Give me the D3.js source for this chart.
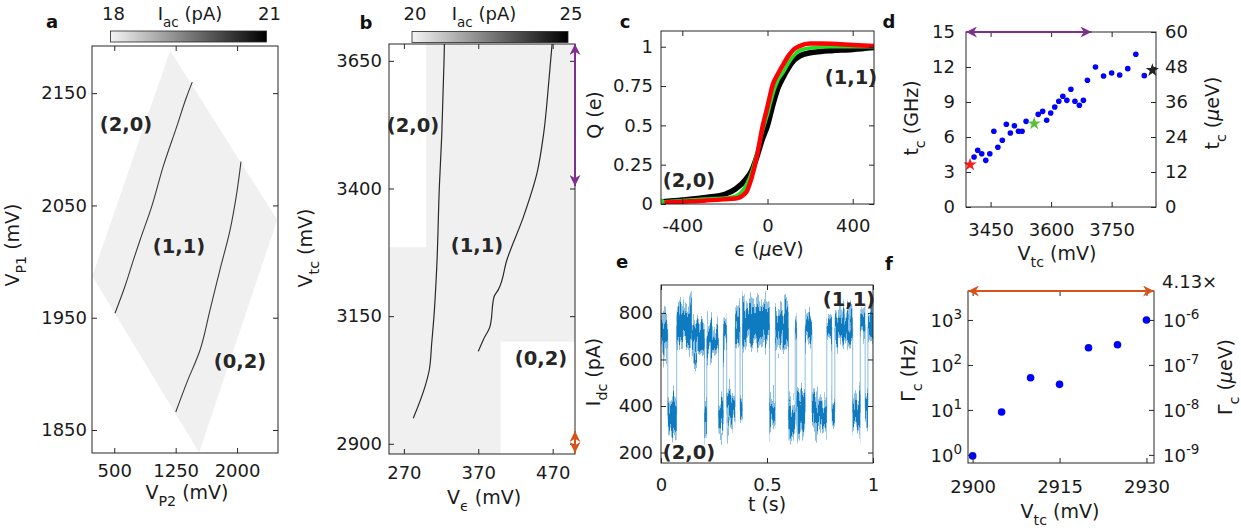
<!DOCTYPE html>
<html>
<head>
<meta charset="utf-8">
<script src="https://cdn.jsdelivr.net/npm/d3@7"></script>
<style>
  body { margin: 0; background: #fff; }
  svg text { font-family: "DejaVu Sans", sans-serif; }
</style>
</head>
<body>
<script>
// ---------- data ----------
// a: charge stability map, corners of the scanned region and two transition lines (V_P2, V_P1) in mV
var aRegion = [[1183, 2188], [2490, 2037], [1537, 1830], [232, 1987]];
var aLine1 = [[509, 1954], [631, 1978], [732, 2001], [814, 2019], [957, 2049], [1099, 2085], [1262, 2120], [1385, 2147], [1453, 2160]];
var aLine2 = [[1251, 1866], [1385, 1892], [1547, 1921], [1670, 1957], [1792, 1993], [1914, 2028], [1996, 2061], [2048, 2089]];
var aXTicks = [500, 1250, 2000];
var aYTicks = [1850, 1950, 2050, 2150];
var aColorbar = [18, 21];

// b: V_eps vs V_tc map (mV)
var bRegion = [[300, 3683], [500, 3683], [500, 3100], [400, 3100], [400, 2880], [250, 2880], [250, 3285], [300, 3285]];
var bLine1 = [[282.6, 2950], [298.4, 3012], [304.2, 3045], [307.4, 3097], [310.5, 3151], [314.2, 3247], [317.7, 3404], [321, 3508], [324, 3652], [324.5, 3683]];
var bLine2 = [[370, 3081], [376.8, 3104], [385.8, 3130], [391.2, 3188], [397, 3202], [408.4, 3260], [430.8, 3345], [448.9, 3430], [457.9, 3508], [464.6, 3606], [469.2, 3683]];
var bXTicks = [270, 370, 470];
var bYTicks = [2900, 3150, 3400, 3650];
var bColorbar = [20, 25];
var bPurple = [3683, 3405];
var bOrange = [2925, 2882];

// c: charge Q(e) vs detuning (ueV)
var cEps   = [-500, -400, -300, -200, -150, -100, -75, -50, -25, 0, 25, 50, 75, 100, 125, 150, 200, 250, 300, 400, 500];
var cBlack = [0.013, 0.025, 0.04, 0.062, 0.095, 0.16, 0.21, 0.30, 0.41, 0.50, 0.63, 0.74, 0.81, 0.87, 0.915, 0.94, 0.962, 0.97, 0.975, 0.983, 0.995];
var cGreen = [0.012, 0.022, 0.032, 0.038, 0.05, 0.12, 0.20, 0.32, 0.46, 0.57, 0.70, 0.79, 0.84, 0.90, 0.945, 0.975, 0.992, 0.998, 1.0, 1.0, 1.0];
var cRed   = [0.008, 0.015, 0.021, 0.03, 0.035, 0.075, 0.165, 0.30, 0.48, 0.62, 0.76, 0.83, 0.89, 0.945, 0.985, 1.004, 1.02, 1.02, 1.019, 1.011, 1.004];
var cXTicks = [-400, 0, 400];
var cYTicks = [0, 0.25, 0.5, 0.75, 1];

// d: tunnel coupling vs V_tc
var dV  = [3409, 3418, 3428, 3438, 3448, 3458, 3468, 3479, 3489, 3499, 3509, 3519, 3528, 3538, 3568, 3579, 3589, 3599, 3609, 3619, 3629, 3639, 3649, 3659, 3670, 3680, 3690, 3710, 3730, 3750, 3770, 3790, 3810, 3831];
var dTc = [4.29, 4.86, 4.57, 4.0, 4.57, 6.49, 5.12, 5.72, 7.09, 6.34, 6.97, 6.49, 6.49, 7.34, 7.94, 8.2, 7.43, 8.06, 8.57, 9.06, 9.49, 9.14, 10.09, 9.06, 8.72, 9.14, 10.86, 12.0, 11.23, 11.48, 11.31, 11.86, 13.09, 11.26];
var dStarV  = [3399, 3558, 3851];
var dStarTc = [3.63, 7.14, 11.72];
var dStarCol = ["#ff1a1a", "#5cbf3a", "#222222"];
var dXTicks = [3450, 3600, 3750];
var dYTicks = [0, 3, 6, 9, 12, 15];
var dY2Ticks = [0, 12, 24, 36, 48, 60];
var dPurple = [3389, 3700];

// e: telegraph trace I_dc; each segment: start time, end time, lower and upper edge of the noise band (pA)
var eStart = [0.000, 0.032, 0.074, 0.145, 0.205, 0.216, 0.271, 0.294, 0.310, 0.350, 0.373, 0.384, 0.512, 0.539, 0.601, 0.633, 0.640, 0.680, 0.712, 0.782, 0.806, 0.820, 0.904, 0.940, 0.963, 0.976];
var eEnd   = [0.032, 0.074, 0.145, 0.205, 0.216, 0.271, 0.294, 0.310, 0.350, 0.373, 0.384, 0.512, 0.539, 0.601, 0.633, 0.640, 0.680, 0.712, 0.782, 0.806, 0.820, 0.904, 0.940, 0.963, 0.976, 1.000];
var eLow   = [630, 270, 650, 610, 260, 620, 280, 640, 320, 660, 310, 660, 300, 640, 260, 680, 290, 660, 290, 680, 310, 660, 290, 680, 330, 650];
var eHigh  = [800, 450, 840, 770, 400, 760, 420, 780, 470, 820, 450, 850, 460, 830, 420, 790, 460, 800, 450, 800, 440, 810, 450, 820, 450, 830];
var eXTicks = [0, 0.5, 1];
var eYTicks = [200, 400, 600, 800];

// f: Gamma_c vs V_tc
var fV = [2900, 2905, 2910, 2915, 2920, 2925, 2930];
var fG = [0.95, 9, 52, 37, 240, 280, 1000];
var fXTicks = [2900, 2915, 2930];
var fYTicks = [1, 10, 100, 1000];
var fY2Labels = ["-9", "-8", "-7", "-6"];

// ---------- drawing ----------
var W = 1241, H = 531;
var axCol = "#262626";
var purple = "#7E2F8E", orange = "#D95319";
var tickSize = 18;
var eps = "\u03f5";

var svg = d3.select("body").append("svg")
    .attr("width", W)
    .attr("height", H);

var defs = svg.append("defs");

// grayscale gradient for the colorbars
var grad = defs.append("linearGradient").attr("id", "cb");
grad.append("stop").attr("offset", "0%").attr("stop-color", "#f4f4f4");
grad.append("stop").attr("offset", "100%").attr("stop-color", "#000");

// arrow heads
[["headP", purple], ["headO", orange]].forEach(function(m) {
    defs.append("marker")
        .attr("id", m[0])
        .attr("viewBox", "0 0 10 10")
        .attr("refX", 10).attr("refY", 5)
        .attr("markerWidth", 11).attr("markerHeight", 11)
        .attr("markerUnits", "userSpaceOnUse")
        .attr("orient", "auto-start-reverse")
        .append("path")
            .attr("d", "M0,0 L10,5 L0,10 L3,5 Z")
            .attr("fill", m[1]);
});

// jagged filter for the noisy current trace
var jag = defs.append("filter").attr("id", "jag")
    .attr("filterUnits", "userSpaceOnUse")
    .attr("x", -20).attr("y", -40).attr("width", 260).attr("height", 260);
jag.append("feTurbulence")
    .attr("type", "fractalNoise").attr("baseFrequency", "0.5 0.03")
    .attr("numOctaves", 2).attr("seed", 4).attr("result", "n");
jag.append("feColorMatrix").attr("in", "n").attr("type", "matrix")
    .attr("values", "0 0 0 0 0.5  0 1 0 0 0  0 0 0 0 0  0 0 0 0 1").attr("result", "m");
jag.append("feDisplacementMap")
    .attr("in", "SourceGraphic").attr("in2", "m")
    .attr("scale", 50).attr("xChannelSelector", "R").attr("yChannelSelector", "G");

function panel(id, box, xDom, yDom, yLog) {
    var g = svg.append("g").attr("transform", "translate(" + box.x + "," + box.y + ")");
    defs.append("clipPath").attr("id", "clip" + id)
        .append("rect").attr("width", box.w).attr("height", box.h);
    var x = d3.scaleLinear().domain(xDom).range([0, box.w]);
    var y = (yLog ? d3.scaleLog() : d3.scaleLinear()).domain(yDom).range([box.h, 0]);
    var inner = g.append("g").attr("clip-path", "url(#clip" + id + ")");
    return {g: g, inner: inner, x: x, y: y, w: box.w, h: box.h};
}

function styleAxis(a) {
    a.attr("font-family", null).attr("font-size", null);
    a.select(".domain").remove();
    a.selectAll("line").attr("stroke", axCol);
    a.selectAll("text").attr("font-size", tickSize).attr("fill", "#1a1a1a");
}

function axes(p, o) {
    var none = function() { return ""; };
    var fmt = o.xf || String;
    styleAxis(p.g.append("g").attr("transform", "translate(0," + p.h + ")")
        .call(d3.axisBottom(p.x).tickValues(o.xt).tickSizeInner(-5).tickSizeOuter(0)
            .tickPadding(o.xp || 14).tickFormat(fmt)));
    styleAxis(p.g.append("g")
        .call(d3.axisTop(p.x).tickValues(o.xt).tickSizeInner(-5).tickSizeOuter(0).tickFormat(none)));
    styleAxis(p.g.append("g")
        .call(d3.axisLeft(p.y).tickValues(o.yt).tickSizeInner(-5).tickSizeOuter(0)
            .tickPadding(o.yp || 7).tickFormat(o.yf || String)));
    styleAxis(p.g.append("g").attr("transform", "translate(" + p.w + ",0)")
        .call(d3.axisRight(o.y2 || p.y).tickValues(o.yt2 || o.yt).tickSizeInner(-5).tickSizeOuter(0)
            .tickPadding(o.yp2 || 9).tickFormat(o.yt2 ? String : none)));
    p.g.append("rect")
        .attr("width", p.w).attr("height", p.h)
        .attr("fill", "none").attr("stroke", axCol).attr("stroke-width", 1);
}

// text with sub/superscripts: parts = [[text, "sub"|"sup"|undefined], ...]
function rich(x, y, parts, size, anchor, rot) {
    var t = svg.append("text")
        .attr("x", x).attr("y", y)
        .attr("font-size", size)
        .attr("text-anchor", anchor || "middle")
        .attr("fill", "#1a1a1a");
    if (rot) t.attr("transform", "rotate(" + rot + "," + x + "," + y + ")");
    var shift = 0;
    parts.forEach(function(p) {
        var s = p[1] === "sub" ? size * 0.38 : (p[1] === "sup" ? -size * 0.45 : 0);
        var ts = t.append("tspan")
            .attr("dy", s - shift)
            .attr("font-size", (p[1] === "sub" || p[1] === "sup") ? size * 0.75 : size)
            .text(p[0]);
        if (p[2] === "it") ts.attr("font-style", "italic");
        shift = s;
    });
    return t;
}

function boldLabel(x, y, s) {
    svg.append("text")
        .attr("x", x).attr("y", y)
        .attr("text-anchor", "middle")
        .attr("font-family", "Liberation Sans, Arial, sans-serif")
        .attr("font-weight", "bold")
        .attr("font-size", 19.5)
        .attr("fill", "#262626")
        .text(s);
}

function panelLetter(x, y, s) {
    svg.append("text")
        .attr("x", x).attr("y", y)
        .attr("text-anchor", "middle")
        .attr("font-family", "Liberation Sans, Arial, sans-serif")
        .attr("font-weight", "bold")
        .attr("font-size", 18)
        .attr("fill", "#111")
        .text(s);
}

function colorbar(x0, y0, w, h, vals, cx) {
    svg.append("rect")
        .attr("x", x0).attr("y", y0).attr("width", w).attr("height", h)
        .attr("fill", "url(#cb)").attr("stroke", axCol).attr("stroke-width", 0.8);
    rich(x0 + 3, 20, [[String(vals[0])]], 18, "middle");
    rich(x0 + w + 3, 20, [[String(vals[1])]], 18, "middle");
    rich(cx, 20, [["I"], ["ac", "sub"], [" (pA)"]], 18, "middle");
}

var lineGen = function(p) {
    return d3.line().x(function(d) { return p.x(d[0]); }).y(function(d) { return p.y(d[1]); });
};

// ---------- panel a ----------
var pa = panel("a", {x: 92, y: 46, w: 186, h: 407}, [228, 2500], [1829.5, 2192]);
pa.inner.append("path")
    .attr("d", lineGen(pa)(aRegion) + "Z")
    .attr("fill", "#f0f0f0");
[aLine1, aLine2].forEach(function(l) {
    pa.inner.append("path")
        .attr("d", lineGen(pa).curve(d3.curveMonotoneY)(l))
        .attr("fill", "none").attr("stroke", "#3a3a3a").attr("stroke-width", 1.1);
});
axes(pa, {xt: aXTicks, yt: aYTicks, xp: 11, yp: 5});
colorbar(110.5, 31, 156, 11, aColorbar, 190);
panelLetter(52, 28, "a");
boldLabel(126, 131, "(2,0)");
boldLabel(179, 253, "(1,1)");
boldLabel(240, 368, "(0,2)");
rich(19, 245, [["V"], ["P1", "sub"], [" (mV)"]], 19, "middle", -90);
rich(187, 499, [["V"], ["P2", "sub"], [" (mV)"]], 19, "middle");

// ---------- panel b ----------
var pb = panel("b", {x: 389, y: 44, w: 186, h: 410}, [250, 500], [2880, 3683]);
pb.inner.append("path")
    .attr("d", lineGen(pb)(bRegion) + "Z")
    .attr("fill", "#f0f0f0");
[bLine1, bLine2].forEach(function(l) {
    pb.inner.append("path")
        .attr("d", lineGen(pb).curve(d3.curveMonotoneY)(l))
        .attr("fill", "none").attr("stroke", "#2a2a2a").attr("stroke-width", 1.2);
});
axes(pb, {xt: bXTicks, yt: bYTicks, xp: 12, yp: 7});
// arrows marking the ranges of panels d and f
pb.g.append("line")
    .attr("x1", pb.w).attr("x2", pb.w)
    .attr("y1", pb.y(bPurple[0])).attr("y2", pb.y(bPurple[1]))
    .attr("stroke", purple).attr("stroke-width", 2)
    .attr("marker-start", "url(#headP)").attr("marker-end", "url(#headP)");
pb.g.append("line")
    .attr("x1", pb.w).attr("x2", pb.w)
    .attr("y1", pb.y(bOrange[0])).attr("y2", pb.y(bOrange[1]))
    .attr("stroke", orange).attr("stroke-width", 2)
    .attr("marker-start", "url(#headO)").attr("marker-end", "url(#headO)");
colorbar(412, 31.5, 156, 11, bColorbar, 484);
panelLetter(366, 29, "b");
boldLabel(413, 132, "(2,0)");
boldLabel(477, 252, "(1,1)");
boldLabel(541, 365, "(0,2)");
rich(312, 248, [["V"], ["tc", "sub"], [" (mV)"]], 19, "middle", -90);
rich(484, 504, [["V"], [eps, "sub"], [" (mV)"]], 19, "middle");

// ---------- panel c ----------
var pc = panel("c", {x: 661, y: 31, w: 213, h: 173}, [-500, 500], [0, 1.1]);
var cLine = d3.line()
    .x(function(d) { return pc.x(d[0]); })
    .y(function(d) { return pc.y(d[1]); })
    .curve(d3.curveMonotoneX);
[[cBlack, "#000", 5.5], [cGreen, "#22dd22", 3.5], [cRed, "#ff0000", 4.5]].forEach(function(s) {
    pc.inner.append("path")
        .attr("d", cLine(cEps.map(function(e, i) { return [e, s[0][i]]; })))
        .attr("fill", "none").attr("stroke", s[1]).attr("stroke-width", s[2])
        .attr("stroke-linecap", "round");
});
pc.inner.append("circle")
    .attr("cx", pc.x(cEps[0])).attr("cy", pc.y(cGreen[0])).attr("r", 3.5)
    .attr("fill", "#22dd22");
axes(pc, {xt: cXTicks, yt: cYTicks, xp: 15, yp: 8});
panelLetter(625, 28, "c");
boldLabel(689, 187, "(2,0)");
boldLabel(851, 84, "(1,1)");
rich(601, 115, [["Q (e)"]], 19, "middle", -90);
rich(769, 256, [[eps + " ("], ["\u03bc", null, "it"], ["eV)"]], 19, "middle");

// ---------- panel d ----------
var pd = panel("d", {x: 966, y: 32, w: 190, h: 175}, [3389, 3860], [0, 15]);
var dY2 = d3.scaleLinear().domain([0, 60]).range([pd.h, 0]);
pd.inner.selectAll("circle.pt")
    .data(dV)
    .enter().append("circle")
        .attr("class", "pt")
        .attr("cx", function(d) { return pd.x(d); })
        .attr("cy", function(d, i) { return pd.y(dTc[i]); })
        .attr("r", 2.8)
        .attr("fill", "#0000ff");
pd.g.selectAll("path.star")
    .data(dStarV)
    .enter().append("path")
        .attr("class", "star")
        .attr("d", d3.symbol().type(d3.symbolStar).size(55))
        .attr("transform", function(d, i) { return "translate(" + pd.x(d) + "," + pd.y(dStarTc[i]) + ")"; })
        .attr("fill", function(d, i) { return dStarCol[i]; });
axes(pd, {xt: dXTicks, yt: dYTicks, xp: 16, yp: 11, y2: dY2, yt2: dY2Ticks, yp2: 9});
pd.g.append("line")
    .attr("x1", pd.x(dPurple[0])).attr("x2", pd.x(dPurple[1]))
    .attr("y1", pd.y(15)).attr("y2", pd.y(15))
    .attr("stroke", purple).attr("stroke-width", 2)
    .attr("marker-start", "url(#headP)").attr("marker-end", "url(#headP)");
panelLetter(889, 28, "d");
rich(918, 118, [["t"], ["c", "sub"], [" (GHz)"]], 19, "middle", -90);
rich(1219, 113, [["t"], ["c", "sub"], [" ("], ["\u03bc", null, "it"], ["eV)"]], 19, "middle", -90);
rich(1057, 260, [["V"], ["tc", "sub"], [" (mV)"]], 19, "middle");

// ---------- panel e ----------
var pe = panel("e", {x: 661, y: 285, w: 212, h: 178}, [0, 1], [155, 920]);
var eBlue = "#0072BD";
// switching events between consecutive segments
pe.inner.selectAll("line.sw")
    .data(eStart.slice(1))
    .enter().append("line")
        .attr("class", "sw")
        .attr("x1", function(d) { return pe.x(d); })
        .attr("x2", function(d) { return pe.x(d); })
        .attr("y1", function(d, i) { return pe.y((eLow[i] + eHigh[i]) / 2); })
        .attr("y2", function(d, i) { return pe.y((eLow[i + 1] + eHigh[i + 1]) / 2); })
        .attr("stroke", eBlue).attr("stroke-opacity", 0.45).attr("stroke-width", 1);
var bands = pe.inner.append("g").attr("filter", "url(#jag)");
bands.selectAll("rect.outer")
    .data(eStart)
    .enter().append("rect")
        .attr("class", "outer")
        .attr("x", function(d) { return pe.x(d); })
        .attr("width", function(d, i) { return pe.x(eEnd[i]) - pe.x(d); })
        .attr("y", function(d, i) { return pe.y(eHigh[i]); })
        .attr("height", function(d, i) { return pe.y(eLow[i]) - pe.y(eHigh[i]); })
        .attr("fill", eBlue).attr("fill-opacity", 0.45);
bands.selectAll("rect.core")
    .data(eStart)
    .enter().append("rect")
        .attr("class", "core")
        .attr("x", function(d) { return pe.x(d); })
        .attr("width", function(d, i) { return pe.x(eEnd[i]) - pe.x(d); })
        .attr("y", function(d, i) { return pe.y(eHigh[i] - (eHigh[i] - eLow[i]) * 0.2); })
        .attr("height", function(d, i) { return (pe.y(eLow[i]) - pe.y(eHigh[i])) * 0.6; })
        .attr("fill", eBlue).attr("fill-opacity", 0.9);
axes(pe, {xt: eXTicks, yt: eYTicks, xp: 15, yp: 8});
panelLetter(622, 268, "e");
boldLabel(849, 306, "(1,1)");
boldLabel(689, 459, "(2,0)");
rich(600, 372, [["I"], ["dc", "sub"], [" (pA)"]], 19, "middle", -90);
rich(767, 511, [["t (s)"]], 19, "middle");

// ---------- panel f ----------
var pf = panel("f", {x: 968, y: 291, w: 186, h: 172}, [2899.2, 2931.3], [0.66, 4400], true);
pf.inner.selectAll("circle.pt")
    .data(fV)
    .enter().append("circle")
        .attr("class", "pt")
        .attr("cx", function(d) { return pf.x(d); })
        .attr("cy", function(d, i) { return pf.y(fG[i]); })
        .attr("r", 3.8)
        .attr("fill", "#0000ff");
axes(pf, {xt: fXTicks, yt: fYTicks, xp: 17, yf: function() { return ""; }});
// log tick labels 10^n on both sides
fYTicks.forEach(function(v, i) {
    var yy = pf.y(v) + 291 + 7;
    rich(962, yy, [["10"], [String(Math.round(Math.log10(v))), "sup"]], 18, "end");
    rich(1163, yy, [["10"], [fY2Labels[i], "sup"]], 18, "start");
});
svg.append("text")
    .attr("x", 1162).attr("y", 288)
    .attr("font-size", 18).attr("fill", "#1a1a1a")
    .text("4.13\u00d7");
pf.g.append("line")
    .attr("x1", 0).attr("x2", pf.w)
    .attr("y1", 0).attr("y2", 0)
    .attr("stroke", orange).attr("stroke-width", 2)
    .attr("marker-start", "url(#headO)").attr("marker-end", "url(#headO)");
panelLetter(889, 270, "f");
rich(915, 370, [["\u0393"], ["c", "sub"], [" (Hz)"]], 19, "middle", -90);
rich(1232, 377, [["\u0393"], ["c", "sub"], [" ("], ["\u03bc", null, "it"], ["eV)"]], 19, "middle", -90);
rich(1060, 518, [["V"], ["tc", "sub"], [" (mV)"]], 19, "middle");
</script>
</body>
</html>
